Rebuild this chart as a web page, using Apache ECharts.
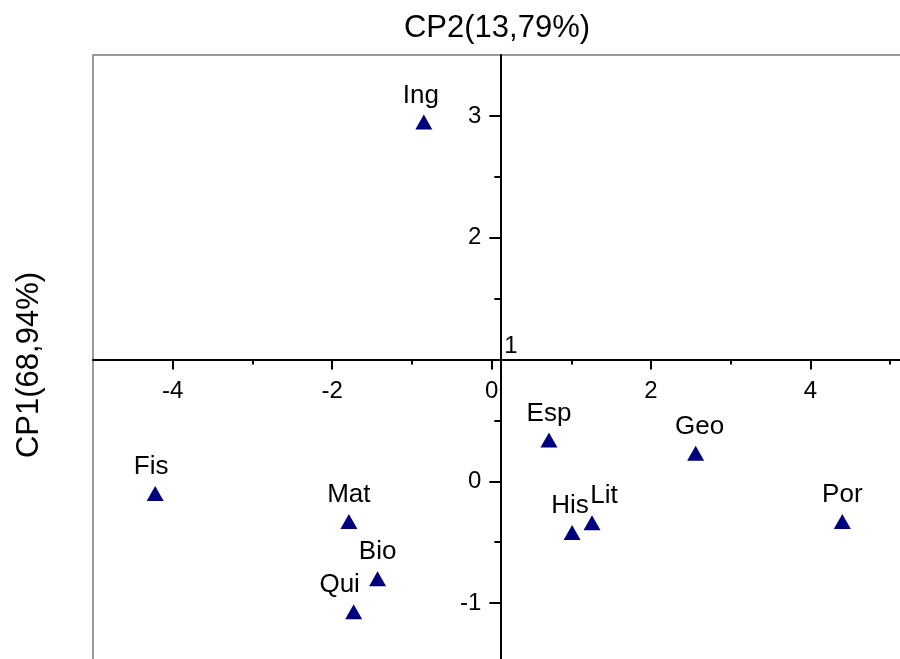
<!DOCTYPE html>
<html>
<head>
<meta charset="utf-8">
<script src="https://cdn.jsdelivr.net/npm/echarts@6/dist/echarts.min.js"></script>
<style>
  html, body { margin: 0; padding: 0; background: #fff; overflow: hidden; }
  #chart { width: 900px; height: 659px; }
</style>
</head>
<body>
<div id="chart"></div>
<script>
// PCA scores of the school subjects on the first two principal components
const subjects = ['Ing', 'Fis', 'Mat', 'Bio', 'Qui', 'Esp', 'Geo', 'His', 'Lit', 'Por'];
const cp2Scores = [-0.85, -4.22, -1.79, -1.43, -1.73, 0.72, 2.56, 1.01, 1.26, 4.40];
const cp1Scores = [2.95, -0.10, -0.33, -0.80, -1.07, 0.34, 0.23, -0.42, -0.34, -0.33];

// axis ticks and labels
const xMajorTicks = [-4, -2, 0, 2, 4];
const xMinorTicks = [-3, -1, 1, 3, 5];
const yMajorTicks = [-1, 0, 1, 2, 3];
const yMinorTicks = [-0.5, 0.5, 1.5, 2.5];
const yTickLabels = [-1, 0, 2, 3];
const xTitle = 'CP2(13,79%)';
const yTitle = 'CP1(68,94%)';

// point where the two axis lines cross (x, y)
const axisCross = [0.11, 1];

// small sideways nudges for crowded labels
const labelShift = { Qui: [-14, 0], Lit: [12, 0], His: [-2, 0], Fis: [-4, 0], Geo: [4, 0], Ing: [-3, 0] };

const FONT = "'Liberation Sans', Arial, sans-serif";
const grid = { left: 93, top: 55, width: 837, height: 609 };
const xRange = { min: -5, max: 5.5 };
const yRange = { min: -1.5, max: 3.5 };

const tickStyle = { color: '#000', width: 2 };

function xAxes(offset) {
  return [
    {
      type: 'value', ...xRange, position: 'bottom', offset,
      axisLine: { show: true, onZero: false, lineStyle: { color: '#000', width: 2 } },
      axisTick: { show: true, inside: false, customValues: xMajorTicks, length: 10, lineStyle: tickStyle },
      axisLabel: { show: true, customValues: xMajorTicks, margin: 20, fontSize: 24, color: '#000', fontFamily: FONT },
      splitLine: { show: false }
    },
    {
      type: 'value', ...xRange, position: 'bottom', offset,
      axisLine: { show: false, onZero: false },
      axisTick: { show: true, inside: false, customValues: xMinorTicks, length: 5, lineStyle: tickStyle },
      axisLabel: { show: false },
      splitLine: { show: false }
    }
  ];
}

function yAxes(offset) {
  return [
    {
      type: 'value', ...yRange, position: 'left', offset,
      axisLine: { show: true, onZero: false, lineStyle: { color: '#000', width: 2 } },
      axisTick: { show: true, inside: false, customValues: yMajorTicks, length: 11, lineStyle: tickStyle },
      axisLabel: { show: true, customValues: yTickLabels, margin: 19, fontSize: 24, color: '#000', fontFamily: FONT },
      splitLine: { show: false }
    },
    {
      type: 'value', ...yRange, position: 'left', offset,
      axisLine: { show: false, onZero: false },
      axisTick: { show: true, inside: false, customValues: yMinorTicks, length: 6, lineStyle: tickStyle },
      axisLabel: { show: false },
      splitLine: { show: false }
    }
  ];
}

function titles(extra) {
  return [
    {
      type: 'text', x: 497, y: 28,
      style: { text: xTitle, fontSize: 31, fontFamily: FONT, fill: '#000', textAlign: 'center', textVerticalAlign: 'middle' }
    },
    {
      type: 'text', x: 29, y: 365, rotation: Math.PI / 2,
      style: { text: yTitle, fontSize: 31, fontFamily: FONT, fill: '#000', textAlign: 'center', textVerticalAlign: 'middle' }
    }
  ].concat(extra || []);
}

const chart = echarts.init(document.getElementById('chart'), null, { renderer: 'canvas' });

const option = {
  animation: false,
  backgroundColor: '#fff',
  grid: {
    ...grid, outerBoundsMode: 'none', containLabel: false,
    show: true, borderColor: '#7a7a7a', borderWidth: 1.5, backgroundColor: 'transparent'
  },
  xAxis: xAxes(0),
  yAxis: yAxes(0),
  graphic: titles(),
  series: [{
    type: 'scatter',
    xAxisIndex: 0,
    yAxisIndex: 0,
    symbol: 'triangle',
    symbolSize: [17, 15],
    itemStyle: { color: '#00007f', opacity: 1 },
    label: {
      show: true, position: 'top', distance: 6, formatter: '{b}',
      fontSize: 26, color: '#000', fontFamily: FONT
    },
    emphasis: { disabled: true },
    data: subjects.map((name, i) => {
      const item = { name, value: [cp2Scores[i], cp1Scores[i]] };
      if (labelShift[name]) item.label = { offset: labelShift[name] };
      return item;
    })
  }]
};

chart.setOption(option);

// move the axis lines so that they cross at axisCross
function placeAxes() {
  const rect = chart.getModel().getComponent('grid', 0).coordinateSystem.getRect();
  const cross = chart.convertToPixel({ gridIndex: 0 }, axisCross);
  chart.setOption({
    xAxis: xAxes(cross[1] - (rect.y + rect.height)),
    yAxis: yAxes(rect.x - cross[0]),
    graphic: titles([{
      type: 'text', x: cross[0] + 4, y: cross[1] - 1,
      style: { text: String(axisCross[1]), fontSize: 24, fontFamily: FONT, fill: '#000', textAlign: 'left', textVerticalAlign: 'bottom' }
    }])
  });
}
placeAxes();
placeAxes();
</script>
</body>
</html>
